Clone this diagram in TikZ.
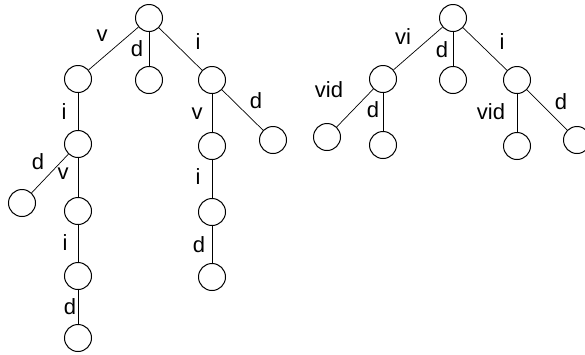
\documentclass[tikz,border=0pt]{standalone}
\usepackage{fontspec}
\setmainfont{Liberation Sans}
\begin{document}
\begin{tikzpicture}[x=1pt,y=-1pt,
  vert/.style={circle,draw,line width=1pt,minimum size=27pt,inner sep=0pt},
  lbl/.style={inner sep=0pt,font=\fontsize{22}{26}\selectfont},
  edge/.style={line width=0.7pt}]
\useasboundingbox (0,0) rectangle (585,354);
\clip (0,0) rectangle (585,354);
% left tree
\node[vert] (r)   at (149,18) {};
\node[vert] (a)   at (78,79) {};
\node[vert] (b)   at (149,80) {};
\node[vert] (c)   at (212,80) {};
\node[vert] (a1)  at (78,144) {};
\node[vert] (a2)  at (22,203) {};
\node[vert] (a3)  at (78,211) {};
\node[vert] (a4)  at (78,276) {};
\node[vert] (a5)  at (78,338) {};
\node[vert] (c1)  at (212,146) {};
\node[vert] (c2)  at (273,140) {};
\node[vert] (c3)  at (212,212) {};
\node[vert] (c4)  at (212,277) {};
\draw[edge] (r) -- (a);
\draw[edge] (r) -- (b);
\draw[edge] (r) -- (c);
\draw[edge] (a) -- (a1);
\draw[edge] (a1) -- (a2);
\draw[edge] (a1) -- (a3);
\draw[edge] (a3) -- (a4);
\draw[edge] (a4) -- (a5);
\draw[edge] (c) -- (c1);
\draw[edge] (c) -- (c2);
\draw[edge] (c1) -- (c3);
\draw[edge] (c3) -- (c4);
\node[lbl] (l1)  at (102,36) {v};
\node[lbl] (l2)  at (137,49) {d};
\node[lbl] (l3)  at (198,42) {i};
\node[lbl] (l4)  at (64,112) {i};
\node[lbl] (l5)  at (38,162) {d};
\node[lbl] (l6)  at (63,174) {v};
\node[lbl] (l7)  at (65,243) {i};
\node[lbl] (l8)  at (70,307) {d};
\node[lbl] (l9)  at (197,114) {v};
\node[lbl] (l10) at (256,101) {d};
\node[lbl] (l11) at (198,177) {i};
\node[lbl] (l12) at (199,245) {d};
% right tree
\node[vert] (s)   at (453,18) {};
\node[vert] (p)   at (383,79) {};
\node[vert] (q)   at (453,80) {};
\node[vert] (t)   at (517,80) {};
\node[vert] (p1)  at (327,137) {};
\node[vert] (p2)  at (383,145) {};
\node[vert] (t1)  at (517,146) {};
\node[vert] (t2)  at (577,140) {};
\draw[edge] (s) -- (p);
\draw[edge] (s) -- (q);
\draw[edge] (s) -- (t);
\draw[edge] (p) -- (p1);
\draw[edge] (p) -- (p2);
\draw[edge] (t) -- (t1);
\draw[edge] (t) -- (t2);
\node[lbl] (m1) at (403,37) {vi};
\node[lbl] (m2) at (442,50) {d};
\node[lbl] (m3) at (502,42) {i};
\node[lbl] (m4) at (329,90) {vid};
\node[lbl] (m5) at (373,110) {d};
\node[lbl] (m6) at (491,112) {vid};
\node[lbl] (m7) at (561,102) {d};
\end{tikzpicture}
\end{document}
